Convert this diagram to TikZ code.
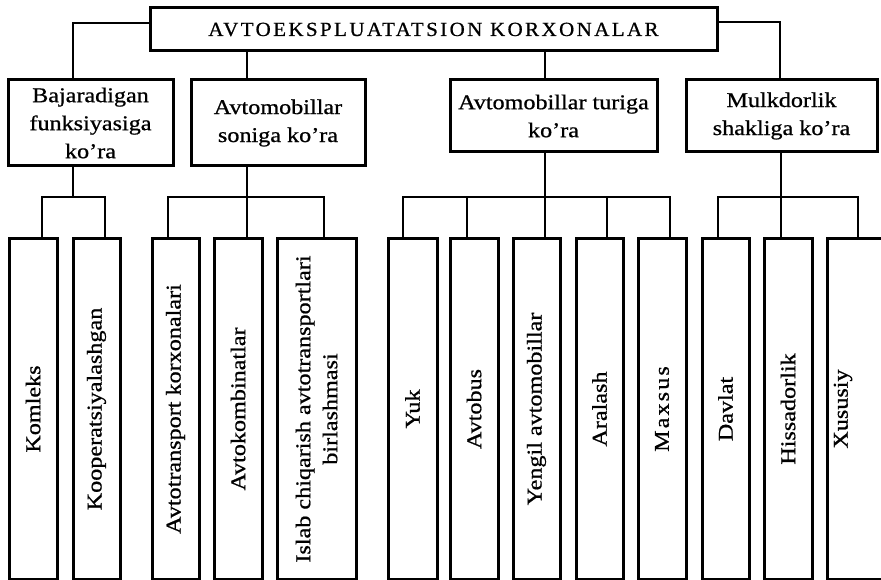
\documentclass[tikz,border=0pt]{standalone}
\usepackage{fontspec}
\setmainfont{Liberation Serif}[FakeStretch=1.15,FakeBold=0.8]
\newfontfamily\titlefont{Liberation Serif}[LetterSpace=12,FakeStretch=1.05,FakeBold=0.8]
\newfontfamily\spacedfont{Liberation Serif}[LetterSpace=10,FakeStretch=1.15,FakeBold=0.8]
\begin{document}
\begin{tikzpicture}[x=1pt,y=-1pt,
  box/.style={draw, line width=3pt, inner sep=0pt, align=center, font=\fontsize{21}{28}\selectfont},
  vbox/.style={draw, line width=3pt, inner sep=0pt, align=center, rotate=90, minimum width=341pt, font=\fontsize{21}{27}\selectfont},
  vtext/.style={inner sep=0pt, align=center, rotate=90, font=\fontsize{21}{27}\selectfont},
  con/.style={line width=2.8pt, line cap=rect}]
\useasboundingbox (0,0) rectangle (881,580);
% top
\node[box, minimum width=567pt, minimum height=43pt, font=\titlefont\fontsize{20}{24}\selectfont] (top) at (433.5,29.5) {AVTOEKSPLUATATSION KORXONALAR};
% level 2
\node[box, minimum width=165pt, minimum height=86pt] (b1) at (90.5,123) {Bajaradigan\\funksiyasiga\\ko’ra};
\node[box, minimum width=174pt, minimum height=86pt] (b2) at (278,123) {Avtomobillar\\soniga ko’ra};
\node[box, minimum width=207pt, minimum height=72pt] (b3) at (553.5,116) {Avtomobillar turiga\\ko’ra};
\node[box, minimum width=191pt, minimum height=72pt] (b4) at (781.5,116) {Mulkdorlik\\shakliga ko’ra};
% level 3
\node[vbox, minimum height=48pt] (k1) at (33,409) {Komleks};
\node[vbox, minimum height=47pt] (k2) at (96.5,409) {Kooperatsiyalashgan};
\node[vbox, minimum height=47pt] (a1) at (175.5,409) {Avtotransport korxonalari};
\node[vbox, minimum height=48pt] (a2) at (238,409) {Avtokombinatlar};
\node[vbox, minimum height=79pt] (a3) at (316.5,409) {Islab chiqarish avtotransportlari\\birlashmasi};
\node[vbox, minimum height=49pt] (t1) at (412.5,409) {Yuk};
\node[vbox, minimum height=48pt] (t2) at (474,409) {Avtobus};
\node[vbox, minimum height=47pt] (t3) at (536.5,409) {Yengil avtomobillar};
\node[vbox, minimum height=47pt] (t4) at (599.5,409) {Aralash};
\node[vbox, minimum height=48pt, font=\spacedfont\fontsize{21}{27}\selectfont] (t5) at (662,409) {Maxsus};
\node[vbox, minimum height=47pt] (m1) at (725.5,409) {Davlat};
\node[vbox, minimum height=48pt] (m2) at (788,409) {Hissadorlik};
\node[vbox, minimum height=64pt] (m3) at (859,409) {};
\node[vtext] (m3t) at (843,409) {Xususiy};
% top connectors
\coordinate (j1) at (73,23);
\coordinate (j4) at (780,22);
\coordinate (j2) at (247,0);
\coordinate (j3) at (545,0);
\draw[con] (top.west |- j1) -- (j1) -- (j1 |- b1.north);
\draw[con] (top.east |- j4) -- (j4) -- (j4 |- b4.north);
\draw[con] (j2 |- top.south) -- (j2 |- b2.north);
\draw[con] (j3 |- top.south) -- (j3 |- b3.north);
% group 1
\coordinate (h1) at (73,197);
\coordinate (d11) at (42,197);
\coordinate (d12) at (105,197);
\draw[con] (h1 |- b1.south) -- (h1);
\draw[con] (d11) -- (d12);
\draw[con] (d11) -- (d11 |- k1.east);
\draw[con] (d12) -- (d12 |- k2.east);
% group 2
\coordinate (h2) at (247,197);
\coordinate (d21) at (168,197);
\coordinate (d23) at (324,197);
\draw[con] (h2 |- b2.south) -- (h2);
\draw[con] (d21) -- (d23);
\draw[con] (d21) -- (d21 |- a1.east);
\draw[con] (h2) -- (h2 |- a2.east);
\draw[con] (d23) -- (d23 |- a3.east);
% group 3
\coordinate (h3) at (545,197);
\coordinate (d31) at (403,197);
\coordinate (d32) at (467,197);
\coordinate (d34) at (607,197);
\coordinate (d35) at (670,197);
\draw[con] (h3 |- b3.south) -- (h3);
\draw[con] (d31) -- (d35);
\draw[con] (d31) -- (d31 |- t1.east);
\draw[con] (d32) -- (d32 |- t2.east);
\draw[con] (h3) -- (h3 |- t3.east);
\draw[con] (d34) -- (d34 |- t4.east);
\draw[con] (d35) -- (d35 |- t5.east);
% group 4
\coordinate (h4) at (781,197);
\coordinate (d41) at (718,197);
\coordinate (d43) at (858,197);
\draw[con] (h4 |- b4.south) -- (h4);
\draw[con] (d41) -- (d43);
\draw[con] (d41) -- (d41 |- m1.east);
\draw[con] (h4) -- (h4 |- m2.east);
\draw[con] (d43) -- (d43 |- m3.east);
\end{tikzpicture}
\end{document}
